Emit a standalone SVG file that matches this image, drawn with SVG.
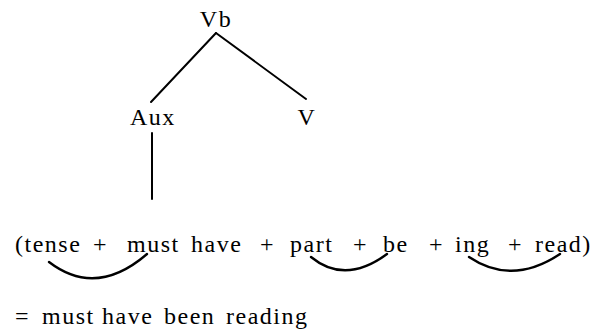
<svg xmlns="http://www.w3.org/2000/svg" width="595" height="330" viewBox="0 0 595 330">
<style>
text{font-family:"Liberation Serif","Times New Roman",serif;font-size:24px;fill:#000;letter-spacing:1.5px}
.ln{stroke:#000;stroke-width:2;fill:none;stroke-linecap:round}
.arc{stroke:#000;stroke-width:2.4;fill:none;stroke-linecap:round}
</style>
<rect width="595" height="330" fill="#fff"/>
<g id="connectors">
<line class="ln" x1="216" y1="33" x2="151" y2="102"/>
<line class="ln" x1="216" y1="33" x2="306" y2="99"/>
<line class="ln" x1="152" y1="133" x2="152" y2="199"/>
<path class="arc" d="M49,262 Q96,298 147,254"/>
<path class="arc" d="M311,257 Q345,285 387,254"/>
<path class="arc" d="M469,257 Q512,286 560,254"/>
</g>
<g id="node-Vb"><text x="216" y="27" text-anchor="middle">Vb</text></g>
<g id="node-Aux"><text x="130" y="125">Aux</text></g>
<g id="node-V"><text x="307" y="125" text-anchor="middle">V</text></g>
<g id="node-sequence">
<text y="252"><tspan x="15">(tense</tspan><tspan x="93">+</tspan><tspan x="127">must</tspan><tspan x="191">have</tspan><tspan x="260">+</tspan><tspan x="290">part</tspan><tspan x="353">+</tspan><tspan x="383">be</tspan><tspan x="429">+</tspan><tspan x="455">ing</tspan><tspan x="508">+</tspan><tspan x="535">read)</tspan></text>
</g>
<g id="node-result">
<text y="324"><tspan x="15">=</tspan><tspan x="42">must</tspan><tspan x="102">have</tspan><tspan x="164">been</tspan><tspan x="226">reading</tspan></text>
</g>
</svg>
